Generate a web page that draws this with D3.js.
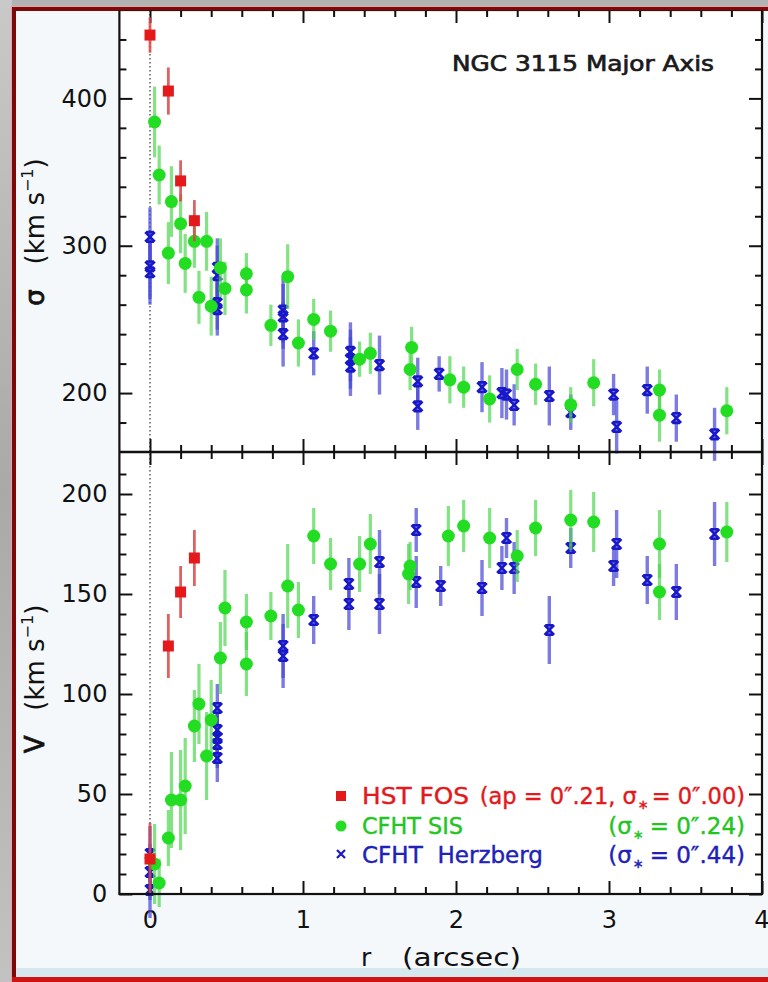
<!DOCTYPE html>
<html><head><meta charset="utf-8">
<script src="https://cdn.jsdelivr.net/npm/d3@7"></script>
<style>
html,body{margin:0;padding:0;background:#b2b2b2;}
svg{display:block;}
text{font-family:"DejaVu Sans",sans-serif;}
</style>
</head><body>
<svg id="chart" width="768" height="982"></svg>
<script>
// ---------------- data ----------------
// HST FOS (red squares)
const hstR      = [0.00, 0.12, 0.20, 0.29];
const hstSigma  = [443, 405, 344, 317];
const hstSigErr = [12, 16, 14, 14];
const hstV      = [17.5, 124, 151, 168];
const hstVErr   = [18, 16, 13, 14];

// CFHT SIS (green circles) – dispersion
const sisRSig   = [0.03, 0.06, 0.12, 0.14, 0.20, 0.23, 0.29, 0.32, 0.37, 0.40, 0.46, 0.49, 0.63, 0.63, 0.79, 0.90, 0.97, 1.07, 1.18, 1.37, 1.44, 1.70, 1.71, 1.96, 2.05, 2.22, 2.40, 2.52, 2.75, 2.90, 3.33, 3.33, 3.77];
const sisSigma  = [384, 348, 295, 330, 315, 288, 303, 265, 303, 259, 285, 271, 281, 270, 246, 279, 234, 250, 242, 223, 227, 216, 231, 209, 204, 196, 216, 206, 192, 207, 202, 185, 188];
const sisSigErr = [24, 20, 21, 24, 20, 20, 18, 18, 20, 20, 20, 18, 14, 16, 14, 22, 16, 14, 14, 12, 14, 14, 14, 16, 14, 16, 14, 14, 12, 16, 14, 18, 16];

// CFHT SIS – velocity
const sisRV     = [0.03, 0.06, 0.12, 0.14, 0.20, 0.23, 0.29, 0.32, 0.37, 0.40, 0.46, 0.49, 0.63, 0.63, 0.79, 0.90, 0.97, 1.07, 1.18, 1.37, 1.44, 1.69, 1.70, 1.95, 2.05, 2.22, 2.40, 2.52, 2.75, 2.90, 3.33, 3.33, 3.77];
const sisV      = [15, 5.5, 28, 47, 47, 54, 84, 95, 69, 87, 118, 143, 115, 136, 139, 154, 142, 179, 165, 165, 175, 160, 164, 179, 184, 178, 169, 183, 187, 186, 175, 151, 181];
const sisVErr   = [20, 12, 14, 24, 25, 24, 18, 20, 22, 20, 18, 19, 16, 14, 12, 21, 14, 14, 13, 14, 15, 15, 12, 15, 13, 15, 13, 14, 15, 15, 17, 14, 15];

// CFHT Herzberg (blue crosses) – dispersion
const herzRSig   = [0.00, 0.00, 0.00, 0.44, 0.44, 0.44, 0.44, 0.87, 0.87, 0.87, 1.07, 1.31, 1.31, 1.31, 1.50, 1.75, 1.75, 1.89, 2.17, 2.30, 2.33, 2.38, 2.61, 2.75, 3.03, 3.05, 3.25, 3.44, 3.69];
const herzSigma  = [306, 286, 282, 285, 280, 261, 257, 256, 252, 240, 227, 228, 223, 218, 219, 208, 191, 213, 204, 200, 199, 192, 198, 187, 199, 177, 202, 183, 172];
const herzSigErr = [20, 22, 22, 20, 20, 18, 18, 22, 22, 22, 15, 20, 20, 20, 20, 16, 16, 12, 17, 17, 17, 14, 20, 12, 14, 18, 16, 16, 18];

// CFHT Herzberg – velocity
const herzRV    = [0.00, 0.00, 0.00, 0.44, 0.44, 0.44, 0.44, 0.44, 0.87, 0.87, 1.07, 1.30, 1.30, 1.50, 1.50, 1.74, 1.74, 1.90, 2.17, 2.30, 2.33, 2.38, 2.61, 2.75, 3.03, 3.05, 3.25, 3.44, 3.69];
const herzV     = [20, 11, 2, 93, 82, 78, 75, 68, 124, 119, 137, 155, 145, 166, 145, 182, 156, 154, 153, 163, 178, 163, 132, 173, 164, 175, 157, 151, 180];
const herzVErr  = [14, 14, 14, 12, 12, 12, 12, 12, 16, 16, 12, 13, 13, 16, 15, 11, 13, 10, 14, 11, 10, 13, 17, 10, 10, 17, 12, 14, 16];

// ticks / labels
const xMajorTicks = [0, 1, 2, 3, 4];
const xMinorTicks = [0.2, 0.4, 0.6, 0.8, 1.2, 1.4, 1.6, 1.8, 2.2, 2.4, 2.6, 2.8, 3.2, 3.4, 3.6, 3.8];
const sigMajorTicks = [200, 300, 400];
const sigMinorTicks = [180, 220, 240, 260, 280, 320, 340, 360, 380, 420, 440];
const vMajorTicks = [0, 50, 100, 150, 200];
const vMinorTicks = [10, 20, 30, 40, 60, 70, 80, 90, 110, 120, 130, 140, 160, 170, 180, 190, 210];
const titleText = "NGC 3115 Major Axis";
const legendNames = ["HST FOS", "CFHT SIS", "CFHT  Herzberg"];

// ---------------- layout ----------------
const svg = d3.select("#chart");
const L = 119.4, R = 762, T = 10, MID = 452, B = 894;
const RED = "#e3191c", GREEN = "#22dd22", BLUE = "#1818c8";

const x = d3.scaleLinear().domain([-0.2, 4]).range([L, R]);
const ySig = d3.scaleLinear().domain([160, 460]).range([MID, T]);
const yV = d3.scaleLinear().domain([0, 221]).range([B, MID]);

// background and outer frame
svg.append("rect").attr("width", 768).attr("height", 982).attr("fill", "#b3b3b3");
const grad = svg.append("defs").append("linearGradient").attr("id", "g1").attr("x1", 0).attr("y1", 0).attr("x2", 0).attr("y2", 1);
grad.append("stop").attr("offset", "0").attr("stop-color", "#c9c9c9");
grad.append("stop").attr("offset", "0.5").attr("stop-color", "#a9a9a9");
grad.append("stop").attr("offset", "1").attr("stop-color", "#c2c2c2");
svg.append("rect").attr("width", 12).attr("height", 982).attr("fill", "url(#g1)");
svg.append("rect").attr("x", 11).attr("y", 6).attr("width", 760).attr("height", 980).attr("fill", "#e7a3a3");
svg.append("rect").attr("x", 12).attr("y", 7).attr("width", 760).attr("height", 980).attr("fill", "#7d0a0a");
svg.append("rect").attr("x", 16).attr("y", 11).attr("width", 760).attr("height", 966).attr("fill", "#f4f8fb");
svg.append("rect").attr("x", 16).attr("y", 968).attr("width", 760).attr("height", 9).attr("fill", "#d4e8ed");
svg.append("rect").attr("x", 12).attr("y", 977).attr("width", 760).attr("height", 6).attr("fill", "#d01414");

// plot background
svg.append("rect").attr("x", L).attr("y", T).attr("width", R - L).attr("height", B - T).attr("fill", "#ffffff");

// dotted zero line
svg.append("line").attr("x1", x(0)).attr("x2", x(0)).attr("y1", T).attr("y2", B)
  .attr("stroke", "#333").attr("stroke-width", 1.2).attr("stroke-dasharray", "1.5,2.5");

// ---------------- axes ----------------
function styleAxis(g) {
  g.select(".domain").remove();
  g.selectAll(".tick line").attr("stroke", "#111").attr("stroke-width", 2);
  g.selectAll(".tick text").attr("fill", "#111").attr("font-size", 24).attr("font-family", "DejaVu Sans, sans-serif");
}
function xAxes(yPos, gen, ticksMaj, ticksMin, labels) {
  const g = svg.append("g").attr("transform", `translate(0,${yPos})`)
    .call(gen(x).tickValues(ticksMaj).tickSize(-13).tickPadding(17).tickFormat(labels ? d3.format("d") : ""))
    .call(styleAxis);
  if (labels) {
    // last label sits at the very right edge, as in the reference: keep it inside the page
    g.selectAll(".tick text").filter(d => d === 4).attr("text-anchor", "end").attr("dx", 7);
  }
  svg.append("g").attr("transform", `translate(0,${yPos})`)
    .call(gen(x).tickValues(ticksMin).tickSize(-7).tickFormat(""))
    .call(styleAxis);
}
xAxes(T, d3.axisTop, xMajorTicks, xMinorTicks, false);
xAxes(MID, d3.axisBottom, xMajorTicks, xMinorTicks, false);
xAxes(MID, d3.axisTop, xMajorTicks, xMinorTicks, false);
xAxes(B, d3.axisBottom, xMajorTicks, xMinorTicks, true);

function yAxes(scale, maj, min) {
  svg.append("g").attr("transform", `translate(${L},0)`)
    .call(d3.axisLeft(scale).tickValues(maj).tickSize(-13).tickPadding(12).tickFormat(d3.format("d"))).call(styleAxis);
  svg.append("g").attr("transform", `translate(${L},0)`)
    .call(d3.axisLeft(scale).tickValues(min).tickSize(-7).tickFormat("")).call(styleAxis);
  svg.append("g").attr("transform", `translate(${R},0)`)
    .call(d3.axisRight(scale).tickValues(maj).tickSize(-13).tickFormat("")).call(styleAxis);
  svg.append("g").attr("transform", `translate(${R},0)`)
    .call(d3.axisRight(scale).tickValues(min).tickSize(-7).tickFormat("")).call(styleAxis);
}
yAxes(ySig, sigMajorTicks, sigMinorTicks);
yAxes(yV, vMajorTicks, vMinorTicks);

// ---------------- data marks ----------------
function zip(rs, vs, es) { return rs.map((r, i) => ({ r, v: vs[i], e: es[i] })); }

function errorBars(data, ys, color, op, w) {
  svg.append("g").selectAll("line").data(data).join("line")
    .attr("x1", d => x(d.r)).attr("x2", d => x(d.r))
    .attr("y1", d => ys(d.v - d.e)).attr("y2", d => ys(d.v + d.e))
    .attr("stroke", color).attr("stroke-opacity", op).attr("stroke-width", w);
}
function crosses(data, ys) {
  errorBars(data, ys, "#4848d8", 0.72, 3.4);
  svg.append("g").selectAll("path").data(data).join("path")
    .attr("d", d => { const cx = x(d.r), cy = ys(d.v), s = 4.8;
      return `M${cx - s},${cy - s}L${cx + s},${cy + s}M${cx - s},${cy + s}L${cx + s},${cy - s}M${cx - s + 1},${cy - s}H${cx + s - 1}M${cx - s + 1},${cy + s}H${cx + s - 1}`; })
    .attr("stroke", BLUE).attr("stroke-width", 2.6).attr("fill", "none");
}
function circles(data, ys) {
  errorBars(data, ys, "#4fd64f", 0.7, 3.2);
  svg.append("g").selectAll("circle").data(data).join("circle")
    .attr("cx", d => x(d.r)).attr("cy", d => ys(d.v)).attr("r", 6.5).attr("fill", GREEN);
}
function squares(data, ys) {
  errorBars(data, ys, "#d94545", 0.85, 2.8);
  svg.append("g").selectAll("rect").data(data).join("rect")
    .attr("x", d => x(d.r) - 5.5).attr("y", d => ys(d.v) - 5.5).attr("width", 11).attr("height", 11).attr("fill", RED);
}

crosses(zip(herzRSig, herzSigma, herzSigErr), ySig);
circles(zip(sisRSig, sisSigma, sisSigErr), ySig);
squares(zip(hstR, hstSigma, hstSigErr), ySig);

crosses(zip(herzRV, herzV, herzVErr), yV);
circles(zip(sisRV, sisV, sisVErr), yV);
squares(zip(hstR, hstV, hstVErr), yV);

// plot frame
svg.append("rect").attr("x", L).attr("y", T).attr("width", R - L).attr("height", B - T)
  .attr("fill", "none").attr("stroke", "#111").attr("stroke-width", 2.2);
svg.append("line").attr("x1", L).attr("x2", R).attr("y1", MID).attr("y2", MID).attr("stroke", "#111").attr("stroke-width", 2.4);
// dark red top rule over the plot top
svg.append("rect").attr("x", 12).attr("y", 7).attr("width", 760).attr("height", 3.5).attr("fill", "#7d0a0a");

// ---------------- text ----------------
svg.append("text").attr("x", 452).attr("y", 71).attr("font-size", 21).attr("font-weight", "normal")
  .attr("fill", "#1a1a1a").attr("stroke", "#1a1a1a").attr("stroke-width", 0.7)
  .attr("textLength", 262).attr("lengthAdjust", "spacingAndGlyphs").text(titleText);

function yLabel(cx, cy, sym) {
  const t = svg.append("text").attr("transform", `translate(${cx},${cy}) rotate(-90)`)
    .attr("text-anchor", "middle").attr("font-size", 26).attr("fill", "#111").style("white-space", "pre");
  t.append("tspan").attr("stroke", "#111").attr("stroke-width", 0.8).text(sym);
  t.append("tspan").text("   (km s");
  t.append("tspan").attr("font-size", 16).attr("dy", -11).text("−1");
  t.append("tspan").attr("dy", 11).text(")");
}
yLabel(44, 232, "σ");
yLabel(44, 679, "V");

svg.append("text").attr("x", 361).attr("y", 966).attr("font-size", 25).attr("fill", "#111").text("r");
svg.append("text").attr("x", 402).attr("y", 966).attr("font-size", 25).attr("fill", "#111")
  .attr("textLength", 119).attr("lengthAdjust", "spacingAndGlyphs").text("(arcsec)");

// legend
const legY = [796, 826, 855];
const legColors = [RED, "#22c522", "#2121b8"];
const legNameWidths = [107, 101, 181];
svg.append("rect").attr("x", x(0) + 186).attr("y", legY[0] - 5).attr("width", 10).attr("height", 10).attr("fill", RED);
svg.append("circle").attr("cx", x(0) + 191).attr("cy", legY[1]).attr("r", 5.5).attr("fill", GREEN);
svg.append("path").attr("d", () => { const cx = x(0) + 191, cy = legY[2] - 1, s = 4;
  return `M${cx - s},${cy - s}L${cx + s},${cy + s}M${cx - s},${cy + s}L${cx + s},${cy - s}`; })
  .attr("stroke", BLUE).attr("stroke-width", 2.2);

legendNames.forEach((n, i) => {
  svg.append("text").attr("x", 362).attr("y", legY[i] + 8).attr("font-size", 23).attr("fill", legColors[i])
    .attr("stroke", legColors[i]).attr("stroke-width", 0.4)
    .attr("textLength", legNameWidths[i]).attr("lengthAdjust", "spacingAndGlyphs")
    .style("white-space", "pre").text(n);
});
const legRight = [["(ap = 0″.21, σ", "= 0″.00)"], ["(σ", "= 0″.24)"], ["(σ", "= 0″.44)"]];
const legRightSize = [22.5, 23, 23];
const legRightGap = [3, 6, 6];
legRight.forEach((p, i) => {
  const t = svg.append("text").attr("x", 745).attr("y", legY[i] + 8).attr("text-anchor", "end")
    .attr("font-size", legRightSize[i]).attr("fill", legColors[i]).attr("stroke", legColors[i]).attr("stroke-width", 0.4)
    .style("white-space", "pre");
  t.append("tspan").text(p[0]);
  t.append("tspan").attr("font-size", 13).attr("dy", 5).attr("dx", 1).text("∗");
  t.append("tspan").attr("dy", -5).attr("dx", legRightGap[i]).text(p[1]);
});
</script>
</body></html>
